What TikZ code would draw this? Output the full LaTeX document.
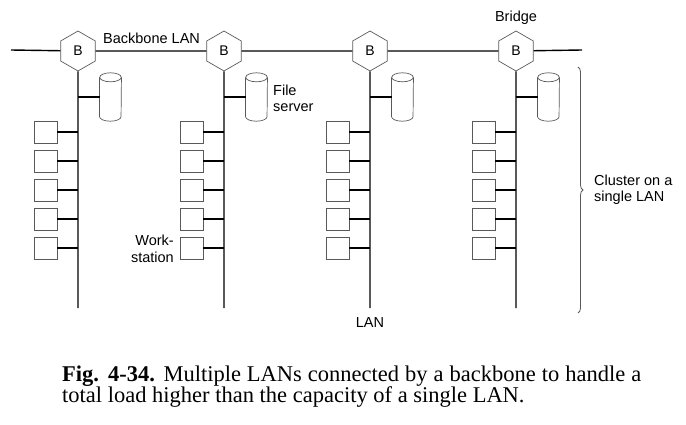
\documentclass[tikz,border=0pt]{standalone}
\usepackage{fontspec}
\setmainfont{Liberation Serif}
\newfontfamily\labfont{Liberation Sans}
\usetikzlibrary{shapes.geometric,decorations.pathreplacing,calc}
\begin{document}
\begin{tikzpicture}[x=1pt,y=-1pt,
  lan/.style={line width=1.4pt,black},
  bridge/.style={regular polygon,regular polygon sides=6,shape border rotate=30,draw=black!65,line width=0.7pt,
     minimum size=40pt,inner sep=0pt,font=\labfont\fontsize{14}{16}\selectfont},
  ws/.style={rectangle,draw=black!65,line width=0.7pt,minimum width=23pt,minimum height=22pt,inner sep=0pt},
  disk/.style={rectangle,minimum width=21.5pt,minimum height=48pt,inner sep=0pt},
  diskline/.style={draw=black!65,line width=0.7pt},
  lab/.style={font=\labfont\fontsize{14.5}{16.5}\selectfont,inner sep=0pt},
  captext/.style={font=\fontsize{22.5}{22.5}\selectfont,inner sep=0pt,anchor=base west}]
\useasboundingbox (0,0) rectangle (686,425);
% backbone
\coordinate (bbL) at (11,50);
\coordinate (bbR) at (582,50);
\foreach \i/\x in {1/78,2/224,3/370,4/516}{
  \node[bridge] (b\i) at (\x,51) {B};
  \coordinate (e\i) at (\x,308);
  \node[disk] (fs\i) at (\x+32.5,97) {};
  \draw[diskline] ($(fs\i.north west)+(0,4.5)$) -- ($(fs\i.south west)+(0,-4.5)$)
     arc[start angle=180,end angle=360,x radius=10.75,y radius=-4.5]
     -- ($(fs\i.north east)+(0,4.5)$);
  \draw[diskline] ($(fs\i.north)+(0,4.5)$) ellipse[x radius=10.75,y radius=4.5];
  \foreach \j/\y in {1/132,2/161,3/190,4/219,5/248}{
    \node[ws] (w\i\j) at (\x-32.5,\y) {};
  }
}
\draw[lan] (bbL) -- (b1) -- (b2) -- (b3) -- (b4) -- (bbR);
\foreach \i in {1,2,3,4}{
  \draw[lan] (b\i.south) -- (e\i);
  \draw[lan] (fs\i.west) -- (fs\i.west -| e\i);
  \foreach \j in {1,2,3,4,5}{
    \draw[lan] (w\i\j.east) -- (w\i\j.east -| e\i);
  }
}
% labels
\node[lab,anchor=base west] (tbb) at (103,44) {Backbone LAN};
\node[lab,anchor=base] (tbr) at (516,22) {Bridge};
\node[lab,anchor=base west,align=left] (tfs) at (273,112) {File\\server};
\node[lab,anchor=base east,align=right] (tws) at (174,262) {Work-\\station};
\node[lab,anchor=base] (tlan) at (370,327) {LAN};
\node[lab,anchor=base west,align=left] (tcl) at (594,202) {Cluster on a\\single LAN};
% brace
\coordinate (brT) at (578,67);
\coordinate (brB) at (578,313);
\draw[black!65,line width=0.8pt,decorate,decoration={brace,amplitude=5pt}] (brT) -- (brB);
% caption
\node[captext] (c1) at (62,381) {\makebox[579pt][s]{\textbf{Fig.}\hspace{9pt}\textbf{4-34.} Multiple LANs connected by a backbone to handle a}};
\node[captext] (c2) at (62,402) {total load higher than the capacity of a single LAN.};
\end{tikzpicture}
\end{document}
